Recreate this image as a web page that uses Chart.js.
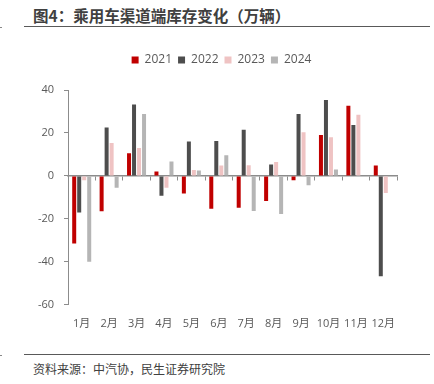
<!DOCTYPE html>
<html><head><meta charset="utf-8">
<script src="https://cdn.jsdelivr.net/npm/chart.js@4.4.1/dist/chart.umd.min.js"></script>
<style>
html,body{margin:0;padding:0;background:#fff;width:434px;height:384px;overflow:hidden;font-family:"Noto Sans CJK SC",sans-serif;}
#title{position:absolute;left:33px;top:4px;font-size:15.5px;font-weight:bold;color:#404040;line-height:22px;white-space:nowrap;}
.hline{position:absolute;left:24px;width:406px;height:0;border-top:1.3px solid #595959;}
.dot{position:absolute;left:0;width:2px;height:1px;background:#888;}
#wrap{position:absolute;left:0;top:40px;width:434px;height:302px;}
#src{position:absolute;left:33px;top:360px;font-size:12px;color:#404040;line-height:18px;white-space:nowrap;}
</style></head>
<body>
<div id="title">图4：乘用车渠道端库存变化（万辆）</div>
<div class="hline" style="top:26px"></div>
<div class="dot" style="top:27px"></div>
<div id="wrap"><canvas id="c"></canvas></div>
<div class="hline" style="top:354px"></div>
<div class="dot" style="top:355px"></div>
<div id="src">资料来源：中汽协，民生证券研究院</div>
<script>
const months = ["1月","2月","3月","4月","5月","6月","7月","8月","9月","10月","11月","12月"];
const v2021 = [-31.5, -16.5, 10.5, 2.0, -8.2, -15.3, -14.8, -11.7, -2.0, 19.0, 32.7, 4.8];
const v2022 = [-17.0, 22.5, 33.2, -9.2, 16.0, 16.3, 21.5, 5.3, 28.8, 35.3, 23.7, -46.7];
const v2023 = [-2.0, 15.3, 13.0, -5.5, 2.7, 4.8, 5.0, 6.5, 20.3, 18.0, 28.5, -8.0];
const v2024 = [-40.0, -5.5, 28.8, 6.7, 2.5, 9.6, -16.3, -17.7, -4.3, 3.0, null, null];
const yTicks = [40, 20, 0, -20, -40, -60];

const axisColor = '#8c8c8c';
const txtColor = '#595959';
const font = {family: '"Open Sans","Noto Sans CJK SC",sans-serif', size: 11};

function ds(label, data, color) {
  return {label, data, backgroundColor: color, borderWidth: 0,
          barPercentage: 0.8, categoryPercentage: 0.73, xAxisID: 'x', yAxisID: 'y'};
}

const legendGap = {
  id: 'legendGap',
  beforeInit(chart) {
    const fit = chart.legend.fit;
    chart.legend.fit = function() { fit.bind(chart.legend)(); this.height += 14; };
  },
  afterLayout(chart) {
    chart.legend.left += 23;
    chart.legend.right += 23;
  }
};

new Chart(document.getElementById('c'), {
  type: 'bar',
  data: {
    labels: months,
    datasets: [
      ds('2021', v2021, '#C00000'),
      ds('2022', v2022, '#4D4D4D'),
      ds('2023', v2023, '#EFC3C3'),
      ds('2024', v2024, '#B5B5B5')
    ]
  },
  options: {
    responsive: true,
    maintainAspectRatio: false,
    animation: false,
    devicePixelRatio: 1,
    layout: {padding: {left: 0, right: 37, top: 8, bottom: 0}},
    plugins: {
      legend: {
        display: true, position: 'top', align: 'center',
        labels: {boxWidth: 7, boxHeight: 7, padding: 6, color: txtColor,
                 font: {family: font.family, size: 12}}
      },
      tooltip: {enabled: false}
    },
    scales: {
      x: {
        type: 'category',
        position: 'bottom',
        grid: {display: false, drawTicks: false},
        border: {display: false},
        ticks: {color: txtColor, font, padding: 12, maxRotation: 0, autoSkip: false}
      },
      x2: {
        type: 'category',
        labels: months,
        position: {y: 0},
        grid: {display: true, offset: true, drawOnChartArea: false, drawTicks: true, tickLength: 4, color: axisColor, lineWidth: 1},
        border: {display: true, color: axisColor, width: 1.5},
        ticks: {display: false}
      },
      y: {
        min: -60, max: 40,
        afterFit(scale) { scale.width = 68; },
        afterBuildTicks(scale) { scale.ticks = yTicks.map(v => ({value: v})); },
        grid: {display: true, drawOnChartArea: false, drawTicks: true, tickLength: 4, color: axisColor},
        border: {display: true, color: axisColor, width: 1},
        ticks: {color: txtColor, font, padding: 10}
      }
    }
  },
  plugins: [legendGap]
});
</script>
</body></html>
